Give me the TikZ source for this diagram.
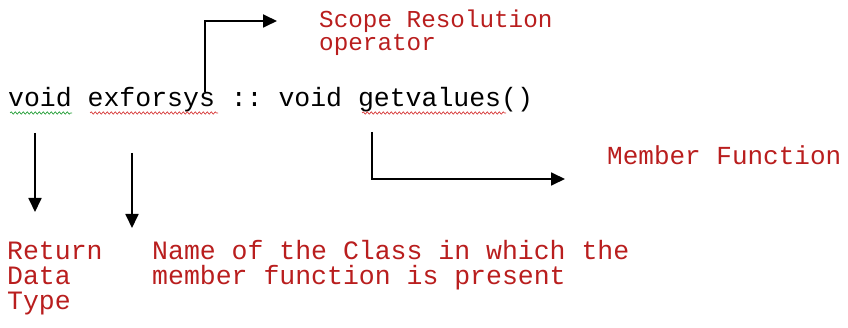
\documentclass[tikz,border=0pt]{standalone}
\usepackage{fontspec}
\setmonofont{Liberation Mono}
\usetikzlibrary{arrows.meta,decorations.pathmorphing}
\definecolor{lblred}{RGB}{185,30,30}
\definecolor{squigred}{RGB}{215,60,60}
\definecolor{squiggreen}{RGB}{40,160,60}
\tikzset{
  code/.style={font=\ttfamily\fontsize{26.5}{26.5}\selectfont, inner sep=0pt, anchor=base west, text=black},
  lbl/.style={font=\ttfamily\fontsize{26.5}{26.5}\selectfont, inner sep=0pt, anchor=base west, text=lblred},
  lblmid/.style={lbl, font=\ttfamily\fontsize{26}{26}\selectfont},
  lblsmall/.style={lbl, font=\ttfamily\fontsize{24.3}{24.3}\selectfont},
  conn/.style={line width=1.8pt, -{Triangle[length=14pt,width=13pt]}},
  squig/.style={line width=0.7pt, decorate, decoration={snake, amplitude=1.2pt, segment length=4pt}}
}
\begin{document}
\begin{tikzpicture}[x=1pt,y=-1pt]
\useasboundingbox (0,0) rectangle (848,328);
\node[code] (code) at (8,107) {void exforsys :: void getvalues()};
\draw[squig, squiggreen] ([xshift=2pt,yshift=-6pt]code.base west) -- ++(62pt,0);
\draw[squig, squigred] ([xshift=82pt,yshift=-6pt]code.base west) -- ++(128pt,0);
\draw[squig, squigred] ([xshift=354pt,yshift=-6pt]code.base west) -- ++(144pt,0);
\node[lblsmall] (scope1) at (319,28) {Scope Resolution};
\node[lblsmall] (scope2) at (319,51) {operator};
\node[lblmid] (member) at (607,165) {Member Function};
\node[lbl] (ret1) at (7,260) {Return};
\node[lbl] (ret2) at (7,285) {Data};
\node[lbl] (ret3) at (7,310) {Type};
\node[lbl] (cls1) at (152,260) {Name of the Class in which the};
\node[lbl] (cls2) at (152,285) {member function is present};
\coordinate (s0) at (205,92);
\coordinate (s1) at (277,21);
\coordinate (r0) at (35,133);
\coordinate (r1) at (35,212);
\coordinate (c0) at (132,153);
\coordinate (c1) at (132,228);
\coordinate (m0) at (372,132);
\coordinate (m1) at (565,179);
\draw[conn] (s0) |- (s1);
\draw[conn] (r0) -- (r1);
\draw[conn] (c0) -- (c1);
\draw[conn] (m0) |- (m1);
\end{tikzpicture}
\end{document}
